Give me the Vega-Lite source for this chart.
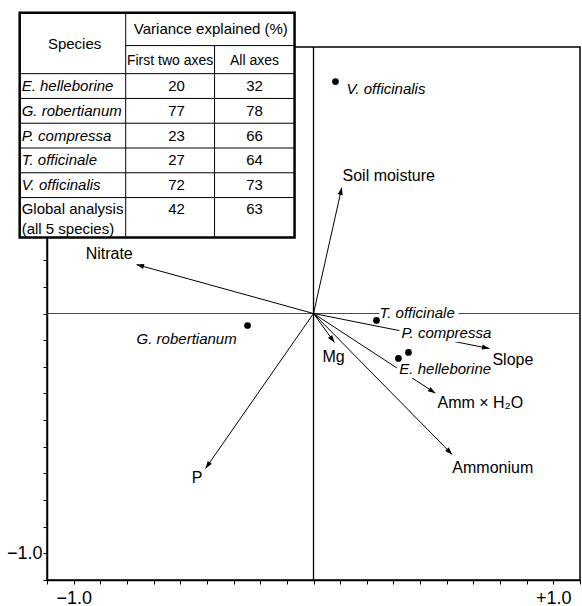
{
  "$schema": "https://vega.github.io/schema/vega-lite/v6.json",
  "width": 533,
  "height": 533,
  "autosize": "none",
  "padding": {"left": 47, "top": 47, "right": 2, "bottom": 26},
  "background": "white",
  "config": {
    "view": {"stroke": "black", "strokeWidth": 1.5},
    "text": {"font": "Liberation Sans", "color": "black"}
  },
  "datasets": {
    "hLine": [
      {"name": "horizontal", "x": -1.1111, "x2": 1.1111, "y": 0, "y2": 0}
    ],
    "vLine": [
      {"name": "vertical", "x": 0, "x2": 0, "y": -1.1111, "y2": 1.1111}
    ],
    "arrows": [
      {"name": "Nitrate", "x": -0.7375, "y": 0.204},
      {"name": "P", "x": -0.45, "y": -0.646},
      {"name": "Mg", "x": 0.0875, "y": -0.121},
      {"name": "Soil moisture", "x": 0.118, "y": 0.525},
      {"name": "Slope", "x": 0.7333, "y": -0.146},
      {"name": "Amm x H2O", "x": 0.508, "y": -0.332},
      {"name": "Ammonium", "x": 0.578, "y": -0.5875}
    ],
    "arrowLabels": [
      {"text": "Nitrate", "x": -0.95, "y": 0.246},
      {"text": "P", "x": -0.508, "y": -0.6875},
      {"text": "Mg", "x": 0.0375, "y": -0.183},
      {"text": "Soil moisture", "x": 0.121, "y": 0.575},
      {"text": "Slope", "x": 0.746, "y": -0.192},
      {"text": "Amm  × H₂O", "x": 0.517, "y": -0.375},
      {"text": "Ammonium", "x": 0.579, "y": -0.646}
    ],
    "species": [
      {"name": "V. officinalis", "x": 0.0917, "y": 0.967},
      {"name": "G. robertianum", "x": -0.275, "y": -0.05},
      {"name": "T. officinale", "x": 0.2625, "y": -0.029},
      {"name": "E. helleborine", "x": 0.354, "y": -0.1875},
      {"name": "P. compressa", "x": 0.396, "y": -0.1625}
    ],
    "speciesLabels": [
      {"text": "V. officinalis", "x": 0.1375, "y": 0.9375},
      {"text": "G. robertianum", "x": -0.7375, "y": -0.108},
      {"text": "T. officinale", "x": 0.275, "y": 0.004},
      {"text": "P. compressa", "x": 0.367, "y": -0.083},
      {"text": "E. helleborine", "x": 0.358, "y": -0.233}
    ],
    "tableBox": [
      {"x": -1.225, "x2": -0.079, "y": 0.317, "y2": 1.254}
    ],
    "tableLines": [
      {"x": -0.783, "x2": -0.783, "y": 0.317, "y2": 1.254},
      {"x": -0.4125, "x2": -0.4125, "y": 0.317, "y2": 1.117},
      {"x": -0.783, "x2": -0.079, "y": 1.117, "y2": 1.117},
      {"x": -1.225, "x2": -0.079, "y": 1.0, "y2": 1.0},
      {"x": -1.225, "x2": -0.079, "y": 0.8967, "y2": 0.8967},
      {"x": -1.225, "x2": -0.079, "y": 0.7933, "y2": 0.7933},
      {"x": -1.225, "x2": -0.079, "y": 0.69, "y2": 0.69},
      {"x": -1.225, "x2": -0.079, "y": 0.5867, "y2": 0.5867},
      {"x": -1.225, "x2": -0.079, "y": 0.4833, "y2": 0.4833}
    ],
    "tableHeader": [
      {"text": "Species", "x": -0.996, "y": 1.125},
      {"text": "Variance explained (%)", "x": -0.428, "y": 1.1875}
    ],
    "tableSub": [
      {"text": "First two axes", "x": -0.598, "y": 1.054},
      {"text": "All axes", "x": -0.246, "y": 1.054}
    ],
    "tableSpecies": [
      {"text": "E. helleborine", "x": -1.2167, "y": 0.9483},
      {"text": "G. robertianum", "x": -1.2167, "y": 0.845},
      {"text": "P. compressa", "x": -1.2167, "y": 0.7417},
      {"text": "T. officinale", "x": -1.2167, "y": 0.6383},
      {"text": "V. officinalis", "x": -1.2167, "y": 0.535}
    ],
    "tableGlobal": [
      {"text": "Global analysis", "x": -1.2167, "y": 0.4375},
      {"text": "(all 5 species)", "x": -1.2167, "y": 0.354}
    ],
    "tableValues": [
      {"text": "20", "x": -0.571, "y": 0.9483},
      {"text": "32", "x": -0.246, "y": 0.9483},
      {"text": "77", "x": -0.571, "y": 0.845},
      {"text": "78", "x": -0.246, "y": 0.845},
      {"text": "23", "x": -0.571, "y": 0.7417},
      {"text": "66", "x": -0.246, "y": 0.7417},
      {"text": "27", "x": -0.571, "y": 0.6383},
      {"text": "64", "x": -0.246, "y": 0.6383},
      {"text": "72", "x": -0.571, "y": 0.535},
      {"text": "73", "x": -0.246, "y": 0.535},
      {"text": "42", "x": -0.571, "y": 0.4375},
      {"text": "63", "x": -0.246, "y": 0.4375}
    ]
  },
  "encoding": {
    "x": {
      "field": "x", "type": "quantitative", "title": null,
      "scale": {"domain": [-1.1111, 1.1111], "nice": false, "zero": false},
      "axis": {
        "title": null, "grid": false,
        "values": [-1.1111, -1, -0.8889, -0.7778, -0.6667, -0.5556, -0.4444, -0.3333, -0.2222, -0.1111, 0, 0.1111, 0.2222, 0.3333, 0.4444, 0.5556, 0.6667, 0.7778, 0.8889, 1, 1.1111],
        "labelExpr": "datum.value == -1 ? '−1.0' : (datum.value == 1 ? '+1.0' : '')",
        "tickSize": 4, "tickColor": "black", "tickWidth": 1,
        "domainColor": "black", "domainWidth": 1.5,
        "labelFont": "Liberation Sans", "labelFontSize": 18, "labelColor": "black",
        "labelPadding": 5, "labelOverlap": false, "labelFlush": false
      }
    },
    "y": {
      "field": "y", "type": "quantitative", "title": null,
      "scale": {"domain": [-1.1111, 1.1111], "nice": false, "zero": false},
      "axis": {
        "title": null, "grid": false,
        "values": [-1.1111, -1, -0.8889, -0.7778, -0.6667, -0.5556, -0.4444, -0.3333, -0.2222, -0.1111, 0, 0.1111, 0.2222, 0.3333, 0.4444, 0.5556, 0.6667, 0.7778, 0.8889, 1, 1.1111],
        "labelExpr": "datum.value == -1 ? '−1.0' : ''",
        "tickSize": 4, "tickColor": "black", "tickWidth": 1,
        "domainColor": "black", "domainWidth": 1.5,
        "labelFont": "Liberation Sans", "labelFontSize": 18, "labelColor": "black",
        "labelPadding": 1, "labelOverlap": false, "labelFlush": false
      }
    }
  },
  "layer": [
    {
      "data": {"name": "hLine"},
      "mark": {"type": "rule", "stroke": "#333", "strokeWidth": 0.9},
      "encoding": {"x2": {"field": "x2"}, "y2": {"field": "y2"}}
    },
    {
      "data": {"name": "vLine"},
      "mark": {"type": "rule", "stroke": "black", "strokeWidth": 1.3},
      "encoding": {"x2": {"field": "x2"}, "y2": {"field": "y2"}}
    },
    {
      "data": {"name": "arrows"},
      "mark": {"type": "rule", "stroke": "black", "strokeWidth": 1},
      "encoding": {
        "x2": {"datum": 0},
        "y2": {"datum": 0}
      }
    },
    {
      "data": {"name": "arrows"},
      "transform": [{"calculate": "atan2(datum.x, datum.y) * 180 / PI", "as": "angle"}],
      "mark": {"type": "point", "shape": "M0,0L-0.38,1.1L0.38,1.1Z", "filled": true, "color": "black", "opacity": 1, "size": 180, "strokeWidth": 0},
      "encoding": {
        "angle": {"field": "angle", "type": "quantitative", "scale": null}
      }
    },
    {
      "data": {"name": "speciesLabels"},
      "mark": {"type": "text", "align": "left", "baseline": "middle", "fontSize": 15, "fontStyle": "italic", "font": "Liberation Sans", "fill": "white", "stroke": "white", "strokeWidth": 8, "strokeJoin": "round"},
      "encoding": {"text": {"field": "text"}}
    },
    {
      "data": {"name": "arrowLabels"},
      "mark": {"type": "text", "align": "left", "baseline": "middle", "fontSize": 16, "font": "Liberation Sans", "color": "black"},
      "encoding": {"text": {"field": "text"}}
    },
    {
      "data": {"name": "species"},
      "mark": {"type": "point", "shape": "circle", "filled": true, "color": "black", "opacity": 1, "size": 45},
      "encoding": {}
    },
    {
      "data": {"name": "speciesLabels"},
      "mark": {"type": "text", "align": "left", "baseline": "middle", "fontSize": 15, "fontStyle": "italic", "font": "Liberation Sans", "color": "black"},
      "encoding": {"text": {"field": "text"}}
    },
    {
      "data": {"name": "tableBox"},
      "mark": {"type": "rect", "fill": "white", "stroke": "black", "strokeWidth": 2.5},
      "encoding": {"x2": {"field": "x2"}, "y2": {"field": "y2"}}
    },
    {
      "data": {"name": "tableLines"},
      "mark": {"type": "rule", "stroke": "black", "strokeWidth": 1},
      "encoding": {"x2": {"field": "x2"}, "y2": {"field": "y2"}}
    },
    {
      "data": {"name": "tableHeader"},
      "mark": {"type": "text", "align": "center", "baseline": "middle", "fontSize": 15, "font": "Liberation Sans", "color": "black"},
      "encoding": {"text": {"field": "text"}}
    },
    {
      "data": {"name": "tableSub"},
      "mark": {"type": "text", "align": "center", "baseline": "middle", "fontSize": 14, "font": "Liberation Sans", "color": "black"},
      "encoding": {"text": {"field": "text"}}
    },
    {
      "data": {"name": "tableSpecies"},
      "mark": {"type": "text", "align": "left", "baseline": "middle", "fontSize": 15, "fontStyle": "italic", "font": "Liberation Sans", "color": "black"},
      "encoding": {"text": {"field": "text"}}
    },
    {
      "data": {"name": "tableGlobal"},
      "mark": {"type": "text", "align": "left", "baseline": "middle", "fontSize": 15, "font": "Liberation Sans", "color": "black"},
      "encoding": {"text": {"field": "text"}}
    },
    {
      "data": {"name": "tableValues"},
      "mark": {"type": "text", "align": "center", "baseline": "middle", "fontSize": 15, "font": "Liberation Sans", "color": "black"},
      "encoding": {"text": {"field": "text"}}
    }
  ]
}
